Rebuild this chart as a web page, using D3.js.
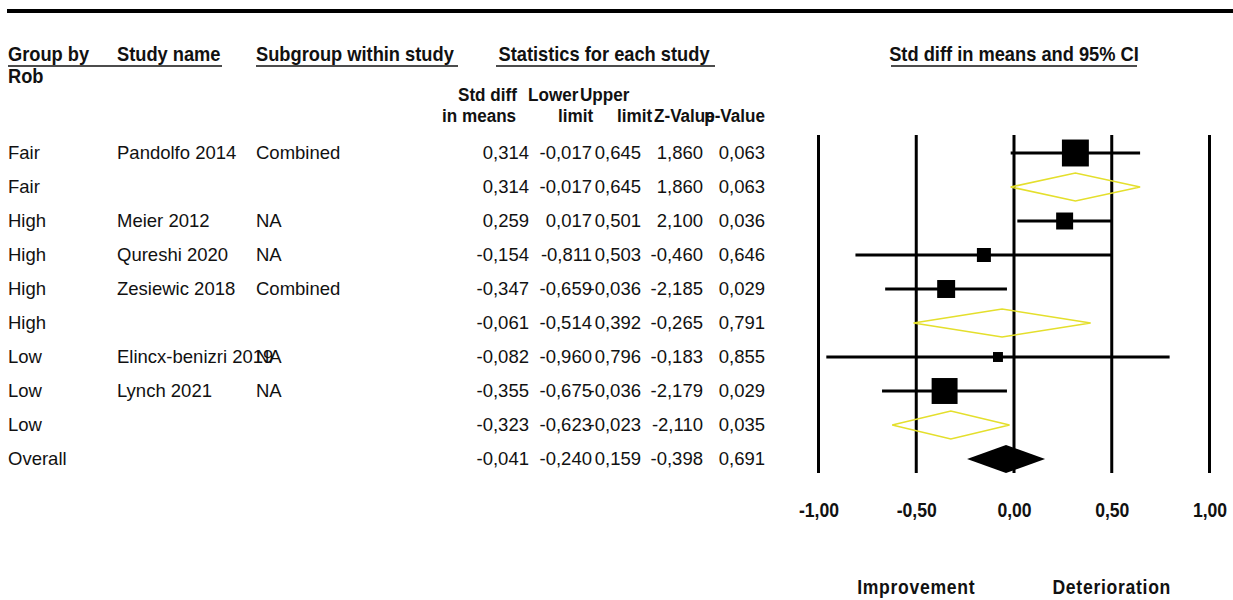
<!DOCTYPE html>
<html>
<head>
<meta charset="utf-8">
<script src="https://cdn.jsdelivr.net/npm/d3@7"></script>
<style>
  body { margin: 0; background: #fff; }
  svg { display: block; }
</style>
</head>
<body>
<svg id="chart" width="1233" height="600"></svg>
<script>
// Forest plot: standardised mean differences grouped by risk of bias
const groups    = ["Fair", "Fair", "High", "High", "High", "High", "Low", "Low", "Low", "Overall"];
const studies   = ["Pandolfo 2014", "", "Meier 2012", "Qureshi 2020", "Zesiewic 2018", "", "Elincx-benizri 2019", "Lynch 2021", "", ""];
const subgroups = ["Combined", "", "NA", "NA", "Combined", "", "NA", "NA", "", ""];
const rowKinds  = ["study", "subtotal", "study", "study", "study", "subtotal", "study", "study", "subtotal", "overall"];
const smd       = [0.314, 0.314, 0.259, -0.154, -0.347, -0.061, -0.082, -0.355, -0.323, -0.041];
const lower     = [-0.017, -0.017, 0.017, -0.811, -0.659, -0.514, -0.960, -0.675, -0.623, -0.240];
const upper     = [0.645, 0.645, 0.501, 0.503, -0.036, 0.392, 0.796, -0.036, -0.023, 0.159];
const zValues   = [1.860, 1.860, 2.100, -0.460, -2.185, -0.265, -0.183, -2.179, -2.110, -0.398];
const pValues   = [0.063, 0.063, 0.036, 0.646, 0.029, 0.791, 0.855, 0.029, 0.035, 0.691];
// relative study weights (%), used for the size of each study's box
const weights   = [31.5, null, 12.5, 8.5, 14.0, null, 4.3, 29.2, null, null];
const axisTicks = [-1, -0.5, 0, 0.5, 1];
const effectLabels = ["Improvement", "Deterioration"];
const effectAt     = [-0.5, 0.5];

const locale = d3.formatLocale({ decimal: ",", thousands: ".", grouping: [3], currency: ["", ""], minus: "-" });
const f3 = locale.format(".3f");
const f2 = locale.format(".2f");

const svg = d3.select("#chart");
const BODY = "'Liberation Sans', Arial, sans-serif";
const ink = "#111";

const x = d3.scaleLinear().domain([-1, 1]).range([818.5, 1209.5]);
const y = d3.scalePoint().domain(d3.range(groups.length)).range([153, 459]);

// condensed bold label (horizontal squeeze of the bold face)
function boldText(parent, px, py, str, opts = {}) {
  const size = opts.size || 21, sx = opts.sx || 0.87, anchor = opts.anchor || "start";
  return parent.append("text")
    .attr("transform", `translate(${px},${py}) scale(${sx},1)`)
    .attr("text-anchor", anchor)
    .attr("font-family", BODY).attr("font-weight", "bold").attr("font-size", size)
    .attr("letter-spacing", opts.ls || 0)
    .attr("fill", ink).text(str);
}

// heavy rule along the top
svg.append("line").attr("x1", 7).attr("x2", 1233).attr("y1", 11).attr("y2", 11)
  .attr("stroke", "#000").attr("stroke-width", 4);

// column headings
const head = svg.append("g");
boldText(head, 8, 61, "Group by");
boldText(head, 8, 83, "Rob");
boldText(head, 117, 61, "Study name");
boldText(head, 256, 61, "Subgroup within study");
boldText(head, 604, 61, "Statistics for each study", { anchor: "middle" });
boldText(head, x(0), 61, "Std diff in means and 95% CI", { anchor: "middle" });

const ul = [[8, 222], [256, 458], [496, 715], [891, 1137]];
svg.append("g").selectAll("line").data(ul).join("line")
  .attr("x1", d => d[0]).attr("x2", d => d[1]).attr("y1", 66).attr("y2", 66)
  .attr("stroke", ink).attr("stroke-width", 1.5);

const colRight = [529, 592, 641, 703, 765];
const sub = svg.append("g");
const subOpt = { size: 19, sx: 0.9 };
boldText(sub, 458, 101, "Std diff", subOpt);
boldText(sub, 528, 101, "Lower", subOpt);
boldText(sub, 580, 101, "Upper", subOpt);
boldText(sub, 442, 122, "in means", subOpt);
boldText(sub, 558, 122, "limit", subOpt);
boldText(sub, 617, 122, "limit", subOpt);
boldText(sub, 654, 122, "Z-Value", subOpt);
boldText(sub, 765, 122, "p-Value", { size: 19, sx: 0.9, anchor: "end" });

// row labels and statistics
const rows = svg.append("g").attr("font-family", BODY).attr("font-size", 18.5).attr("fill", ink);
const idx = d3.range(groups.length);
rows.selectAll("text.grp").data(idx).join("text").attr("class", "grp")
  .attr("x", 8).attr("y", i => y(i)).attr("dy", "0.35em").text(i => groups[i]);
rows.selectAll("text.std").data(idx).join("text").attr("class", "std")
  .attr("x", 117).attr("y", i => y(i)).attr("dy", "0.35em").text(i => studies[i]);
rows.selectAll("text.sub").data(idx).join("text").attr("class", "sub")
  .attr("x", 256).attr("y", i => y(i)).attr("dy", "0.35em").text(i => subgroups[i]);

const cols = [smd, lower, upper, zValues, pValues];
cols.forEach((vals, c) => {
  rows.append("g").attr("text-anchor", "end").selectAll("text").data(idx).join("text")
    .attr("x", colRight[c]).attr("y", i => y(i)).attr("dy", "0.35em").text(i => f3(vals[i]));
});

// reference lines at each tick
svg.append("g").selectAll("line").data(axisTicks).join("line")
  .attr("x1", d => x(d)).attr("x2", d => x(d)).attr("y1", 135).attr("y2", 473)
  .attr("stroke", "#000").attr("stroke-width", 3);

// confidence interval whiskers
const studyIdx = idx.filter(i => rowKinds[i] === "study");
svg.append("g").selectAll("line").data(studyIdx).join("line")
  .attr("x1", i => x(lower[i])).attr("x2", i => x(upper[i]))
  .attr("y1", i => y(i)).attr("y2", i => y(i))
  .attr("stroke", "#000").attr("stroke-width", 3);

// study boxes sized by weight
const boxK = 4.8;
svg.append("g").selectAll("rect").data(studyIdx).join("rect")
  .attr("x", i => x(smd[i]) - Math.sqrt(weights[i]) * boxK / 2)
  .attr("y", i => y(i) - Math.sqrt(weights[i]) * boxK / 2)
  .attr("width", i => Math.sqrt(weights[i]) * boxK)
  .attr("height", i => Math.sqrt(weights[i]) * boxK)
  .attr("fill", "#000");

// pooled diamonds
const halfH = 14;
const diamond = i => `M${x(lower[i])},${y(i)}L${x(smd[i])},${y(i) - halfH}L${x(upper[i])},${y(i)}L${x(smd[i])},${y(i) + halfH}Z`;
svg.append("g").selectAll("path").data(idx.filter(i => rowKinds[i] === "subtotal")).join("path")
  .attr("d", diamond).attr("fill", "none").attr("stroke", "#e4df2c").attr("stroke-width", 1.6);
svg.append("g").selectAll("path").data(idx.filter(i => rowKinds[i] === "overall")).join("path")
  .attr("d", diamond).attr("fill", "#000");

// axis labels
const axis = d3.axisBottom(x).tickValues(axisTicks).tickFormat(f2).tickSize(0).tickPadding(0);
const ax = svg.append("g").attr("transform", "translate(0,503)").call(axis);
ax.select(".domain").remove();
ax.selectAll("text").attr("font-family", BODY).attr("font-weight", "bold")
  .attr("font-size", 20).attr("fill", ink).attr("transform", "scale(0.88,1)");

const eff = svg.append("g");
effectLabels.forEach((d, i) => boldText(eff, x(effectAt[i]), 594, d, { size: 20, sx: 0.88, anchor: "middle", ls: 0.8 }));
</script>
</body>
</html>
